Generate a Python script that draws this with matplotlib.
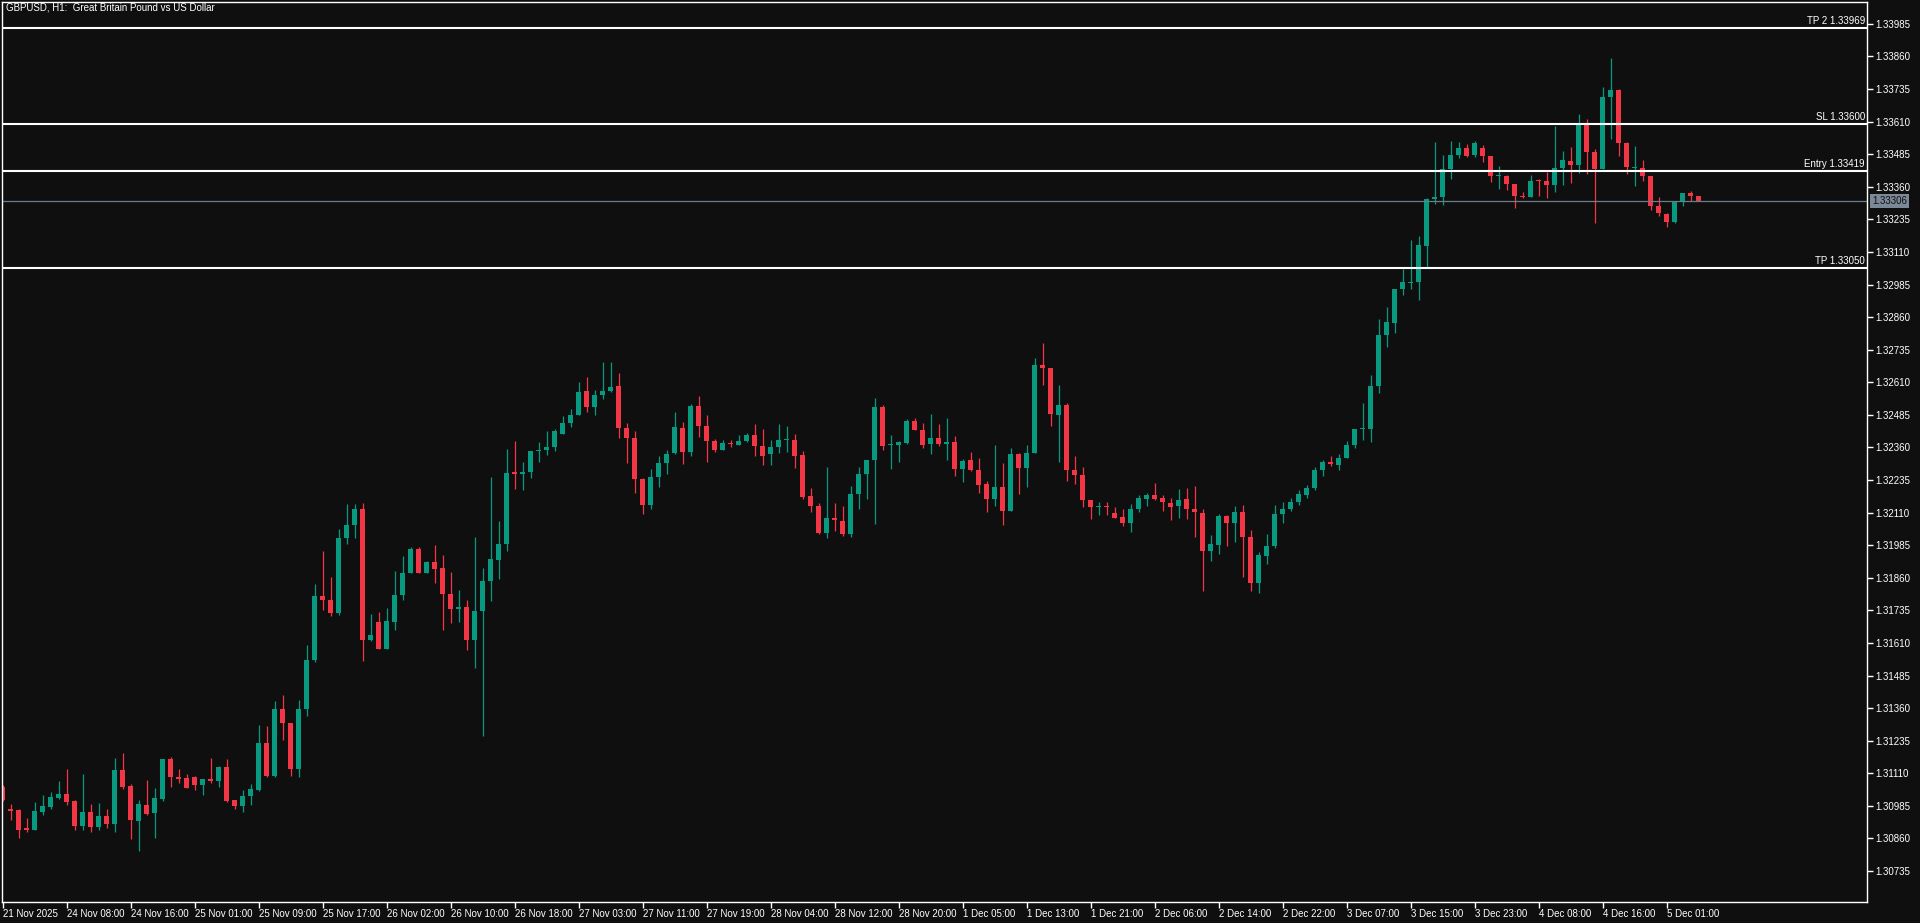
import numpy as np
import matplotlib.pyplot as plt
from matplotlib.transforms import blended_transform_factory

plt.rcParams['font.family'] = ['Liberation Sans', 'DejaVu Sans']

title = 'GBPUSD, H1:  Great Britain Pound vs US Dollar'

# H1 bars
opens = [
    1.31058, 1.30973, 1.30970, 1.30898, 1.30894, 1.30963, 1.30982, 1.31016, 1.31031, 1.31004,
    1.30906, 1.30962, 1.30902, 1.30947, 1.30917, 1.31123, 1.31062, 1.30925, 1.30989, 1.30959,
    1.31013, 1.31165, 1.31096, 1.31092, 1.31096, 1.31063, 1.31089, 1.31081, 1.31135, 1.31008,
    1.30985, 1.31021, 1.31046, 1.31227, 1.31101, 1.31357, 1.31303, 1.31128, 1.31355, 1.31543,
    1.31791, 1.31776, 1.31723, 1.32011, 1.32061, 1.32125, 1.31623, 1.31691, 1.31585, 1.31692,
    1.31792, 1.31877, 1.31971, 1.31880, 1.31921, 1.31898, 1.31799, 1.31742, 1.31749, 1.31623,
    1.31731, 1.31846, 1.31930, 1.31988, 1.32263, 1.32260, 1.32264, 1.32345, 1.32349, 1.32360,
    1.32410, 1.32452, 1.32483, 1.32578, 1.32514, 1.32560, 1.32575, 1.32597, 1.32436, 1.32397,
    1.32240, 1.32141, 1.32245, 1.32299, 1.32337, 1.32436, 1.32341, 1.32520, 1.32443, 1.32386,
    1.32349, 1.32378, 1.32368, 1.32386, 1.32409, 1.32367, 1.32333, 1.32360, 1.32387, 1.32390,
    1.32332, 1.32175, 1.32136, 1.32030, 1.32090, 1.32079, 1.32026, 1.32180, 1.32257, 1.32310,
    1.32516, 1.32368, 1.32370, 1.32378, 1.32462, 1.32428, 1.32375, 1.32397, 1.32372, 1.32382,
    1.32279, 1.32313, 1.32274, 1.32221, 1.32164, 1.32209, 1.32115, 1.32336, 1.32283, 1.32337,
    1.32677, 1.32666, 1.32483, 1.32524, 1.32274, 1.32255, 1.32159, 1.32130, 1.32136, 1.32109,
    1.32094, 1.32072, 1.32122, 1.32164, 1.32178, 1.32167, 1.32148, 1.32134, 1.32163, 1.32125,
    1.32109, 1.31961, 1.31984, 1.32098, 1.32072, 1.32113, 1.32017, 1.31838, 1.31942, 1.31980,
    1.32103, 1.32122, 1.32150, 1.32178, 1.32205, 1.32272, 1.32305, 1.32291, 1.32318, 1.32370,
    1.32429, 1.32429, 1.32597, 1.32790, 1.32836, 1.32967, 1.32992, 1.32996, 1.33134, 1.33312,
    1.33320, 1.33427, 1.33481, 1.33510, 1.33481, 1.33510, 1.33480, 1.33400, 1.33403, 1.33372,
    1.33323, 1.33320, 1.33387, 1.33384, 1.33366, 1.33431, 1.33460, 1.33442, 1.33602, 1.33495,
    1.33427, 1.33703, 1.33733, 1.33529, 1.33431, 1.33433, 1.33403, 1.33288, 1.33254, 1.33224,
    1.33300, 1.33338, 1.33326,
]
highs = [
    1.31065, 1.30993, 1.30973, 1.30939, 1.31000, 1.31027, 1.31039, 1.31081, 1.31127, 1.31008,
    1.31108, 1.30993, 1.30996, 1.30973, 1.31169, 1.31188, 1.31069, 1.31008, 1.31085, 1.31054,
    1.31165, 1.31173, 1.31127, 1.31108, 1.31100, 1.31089, 1.31169, 1.31138, 1.31165, 1.31008,
    1.31046, 1.31069, 1.31296, 1.31292, 1.31388, 1.31411, 1.31303, 1.31392, 1.31603, 1.31837,
    1.31964, 1.31864, 1.32048, 1.32144, 1.32144, 1.32148, 1.31722, 1.31729, 1.31745, 1.31887,
    1.31944, 1.31979, 1.31979, 1.31925, 1.31987, 1.31948, 1.31883, 1.31814, 1.31776, 1.32017,
    1.31898, 1.32248, 1.32079, 1.32355, 1.32386, 1.32305, 1.32347, 1.32382, 1.32424, 1.32432,
    1.32482, 1.32509, 1.32612, 1.32631, 1.32582, 1.32689, 1.32689, 1.32647, 1.32455, 1.32424,
    1.32244, 1.32278, 1.32328, 1.32351, 1.32497, 1.32459, 1.32528, 1.32558, 1.32486, 1.32393,
    1.32390, 1.32390, 1.32409, 1.32416, 1.32451, 1.32432, 1.32390, 1.32451, 1.32443, 1.32413,
    1.32347, 1.32205, 1.32148, 1.32286, 1.32148, 1.32136, 1.32213, 1.32286, 1.32313, 1.32551,
    1.32524, 1.32409, 1.32386, 1.32470, 1.32474, 1.32455, 1.32489, 1.32451, 1.32474, 1.32405,
    1.32317, 1.32343, 1.32320, 1.32232, 1.32370, 1.32301, 1.32359, 1.32340, 1.32370, 1.32704,
    1.32762, 1.32666, 1.32601, 1.32532, 1.32328, 1.32286, 1.32159, 1.32152, 1.32152, 1.32132,
    1.32125, 1.32144, 1.32178, 1.32186, 1.32225, 1.32178, 1.32167, 1.32201, 1.32205, 1.32213,
    1.32125, 1.32025, 1.32106, 1.32102, 1.32136, 1.32140, 1.32044, 1.31960, 1.32029, 1.32140,
    1.32152, 1.32166, 1.32195, 1.32215, 1.32285, 1.32313, 1.32328, 1.32336, 1.32386, 1.32432,
    1.32532, 1.32639, 1.32854, 1.32900, 1.32969, 1.33046, 1.33157, 1.33173, 1.33318, 1.33530,
    1.33483, 1.33537, 1.33533, 1.33526, 1.33537, 1.33522, 1.33480, 1.33441, 1.33407, 1.33372,
    1.33341, 1.33407, 1.33391, 1.33418, 1.33595, 1.33499, 1.33514, 1.33641, 1.33622, 1.33506,
    1.33744, 1.33856, 1.33737, 1.33533, 1.33518, 1.33464, 1.33403, 1.33322, 1.33258, 1.33303,
    1.33338, 1.33345, 1.33326,
]
lows = [
    1.31002, 1.30932, 1.30863, 1.30883, 1.30894, 1.30948, 1.30971, 1.31012, 1.30990, 1.30894,
    1.30894, 1.30886, 1.30894, 1.30898, 1.30886, 1.31048, 1.30856, 1.30813, 1.30948, 1.30863,
    1.31005, 1.31059, 1.31073, 1.31055, 1.31044, 1.31028, 1.31073, 1.31059, 1.30998, 1.30971,
    1.30963, 1.30990, 1.31042, 1.31097, 1.31094, 1.31239, 1.31101, 1.31097, 1.31328, 1.31535,
    1.31738, 1.31715, 1.31719, 1.31988, 1.32011, 1.31539, 1.31616, 1.31585, 1.31585, 1.31658,
    1.31773, 1.31877, 1.31877, 1.31877, 1.31838, 1.31658, 1.31685, 1.31689, 1.31581, 1.31512,
    1.31251, 1.31769, 1.31854, 1.31961, 1.32199, 1.32195, 1.32241, 1.32303, 1.32330, 1.32345,
    1.32410, 1.32437, 1.32483, 1.32495, 1.32483, 1.32544, 1.32571, 1.32395, 1.32299, 1.32184,
    1.32103, 1.32122, 1.32207, 1.32257, 1.32333, 1.32295, 1.32329, 1.32399, 1.32306, 1.32341,
    1.32349, 1.32360, 1.32368, 1.32379, 1.32329, 1.32291, 1.32291, 1.32337, 1.32341, 1.32280,
    1.32161, 1.32111, 1.32026, 1.32011, 1.32038, 1.32019, 1.32015, 1.32122, 1.32161, 1.32068,
    1.32352, 1.32276, 1.32306, 1.32374, 1.32425, 1.32356, 1.32333, 1.32364, 1.32310, 1.32249,
    1.32226, 1.32268, 1.32187, 1.32111, 1.32134, 1.32061, 1.32115, 1.32180, 1.32210, 1.32337,
    1.32598, 1.32441, 1.32303, 1.32230, 1.32218, 1.32130, 1.32084, 1.32099, 1.32099, 1.32088,
    1.32057, 1.32034, 1.32111, 1.32134, 1.32159, 1.32115, 1.32080, 1.32091, 1.32084, 1.32015,
    1.31811, 1.31923, 1.31953, 1.31980, 1.31999, 1.31861, 1.31811, 1.31800, 1.31911, 1.31973,
    1.32072, 1.32115, 1.32140, 1.32165, 1.32195, 1.32249, 1.32287, 1.32272, 1.32318, 1.32356,
    1.32387, 1.32379, 1.32567, 1.32744, 1.32798, 1.32944, 1.32967, 1.32924, 1.33047, 1.33293,
    1.33289, 1.33389, 1.33469, 1.33473, 1.33473, 1.33454, 1.33377, 1.33350, 1.33347, 1.33277,
    1.33316, 1.33320, 1.33323, 1.33316, 1.33339, 1.33366, 1.33373, 1.33412, 1.33408, 1.33220,
    1.33427, 1.33542, 1.33477, 1.33408, 1.33362, 1.33381, 1.33270, 1.33247, 1.33205, 1.33220,
    1.33285, 1.33304, 1.33306,
]
closes = [
    1.31009, 1.30967, 1.30894, 1.30894, 1.30966, 1.30985, 1.31019, 1.31031, 1.30998, 1.30906,
    1.30962, 1.30902, 1.30947, 1.30917, 1.31123, 1.31059, 1.30929, 1.30993, 1.30955, 1.31016,
    1.31165, 1.31094, 1.31089, 1.31055, 1.31063, 1.31089, 1.31081, 1.31135, 1.31005, 1.30985,
    1.31023, 1.31050, 1.31227, 1.31101, 1.31357, 1.31301, 1.31128, 1.31357, 1.31545, 1.31791,
    1.31773, 1.31723, 1.32013, 1.32063, 1.32125, 1.31623, 1.31641, 1.31585, 1.31695, 1.31795,
    1.31879, 1.31971, 1.31880, 1.31921, 1.31892, 1.31796, 1.31742, 1.31746, 1.31623, 1.31733,
    1.31848, 1.31933, 1.31990, 1.32263, 1.32260, 1.32267, 1.32347, 1.32351, 1.32363, 1.32424,
    1.32455, 1.32486, 1.32574, 1.32514, 1.32562, 1.32578, 1.32593, 1.32433, 1.32395, 1.32237,
    1.32141, 1.32248, 1.32301, 1.32336, 1.32440, 1.32341, 1.32520, 1.32441, 1.32383, 1.32352,
    1.32378, 1.32372, 1.32386, 1.32409, 1.32364, 1.32329, 1.32363, 1.32390, 1.32390, 1.32329,
    1.32168, 1.32134, 1.32030, 1.32090, 1.32080, 1.32026, 1.32182, 1.32259, 1.32313, 1.32516,
    1.32364, 1.32370, 1.32382, 1.32462, 1.32425, 1.32368, 1.32397, 1.32372, 1.32382, 1.32279,
    1.32309, 1.32272, 1.32214, 1.32164, 1.32209, 1.32115, 1.32336, 1.32283, 1.32340, 1.32677,
    1.32663, 1.32487, 1.32524, 1.32272, 1.32253, 1.32157, 1.32130, 1.32136, 1.32130, 1.32091,
    1.32072, 1.32125, 1.32167, 1.32178, 1.32163, 1.32149, 1.32130, 1.32159, 1.32122, 1.32111,
    1.31961, 1.31990, 1.32098, 1.32072, 1.32113, 1.32015, 1.31838, 1.31948, 1.31983, 1.32106,
    1.32125, 1.32152, 1.32180, 1.32205, 1.32274, 1.32305, 1.32295, 1.32321, 1.32370, 1.32432,
    1.32433, 1.32597, 1.32793, 1.32842, 1.32969, 1.32996, 1.32996, 1.33138, 1.33315, 1.33322,
    1.33430, 1.33483, 1.33510, 1.33477, 1.33529, 1.33477, 1.33400, 1.33403, 1.33370, 1.33323,
    1.33320, 1.33384, 1.33381, 1.33366, 1.33433, 1.33464, 1.33442, 1.33602, 1.33492, 1.33427,
    1.33706, 1.33733, 1.33527, 1.33435, 1.33435, 1.33400, 1.33285, 1.33258, 1.33224, 1.33303,
    1.33338, 1.33323, 1.33306,
]

time_labels = ['21 Nov 2025', '24 Nov 08:00', '24 Nov 16:00', '25 Nov 01:00', '25 Nov 09:00',
               '25 Nov 17:00', '26 Nov 02:00', '26 Nov 10:00', '26 Nov 18:00', '27 Nov 03:00',
               '27 Nov 11:00', '27 Nov 19:00', '28 Nov 04:00', '28 Nov 12:00', '28 Nov 20:00',
               '1 Dec 05:00', '1 Dec 13:00', '1 Dec 21:00', '2 Dec 06:00', '2 Dec 14:00',
               '2 Dec 22:00', '3 Dec 07:00', '3 Dec 15:00', '3 Dec 23:00', '4 Dec 08:00',
               '4 Dec 16:00', '5 Dec 01:00']
bars_per_label = 8

level_names = ['TP 2', 'SL', 'Entry', 'TP']
level_prices = [1.33969, 1.33600, 1.33419, 1.33050]
last_price = 1.33306

price_ticks = [1.30735 + 0.00125 * k for k in range(27)]

bg = '#0f0f0f'
up_col = '#089981'
dn_col = '#f23645'
W, H = 1920, 923

o = np.array(opens); h = np.array(highs); l = np.array(lows); c = np.array(closes)
x = np.arange(len(o))
cols = np.where(c >= o, up_col, dn_col)

fig = plt.figure(figsize=(W / 100, H / 100), dpi=100, facecolor=bg)
# plot frame in pixels: x 2..1867, y 2..902
ax = fig.add_axes([2 / W, 21 / H, 1865 / W, 900 / H], facecolor=bg)

ax.vlines(x, l, h, colors=cols, linewidth=0.9)
body_lo = np.minimum(o, c)
body_h = np.maximum(np.abs(c - o), 0.00004)
ax.bar(x, body_h, bottom=body_lo, width=0.62, color=cols, linewidth=0)

ax.set_xlim(-0.0625, 233.06)
ax.set_ylim(1.30616, 1.34069)

# trade levels
tr = blended_transform_factory(ax.transAxes, ax.transData)
for name, p in zip(level_names, level_prices):
    ax.axhline(p, color='white', lw=1.5)
    ax.annotate(f'{name} {p:.5f}', xy=(1, p), xycoords=tr, xytext=(-2, 2),
                textcoords='offset pixels', ha='right', va='bottom',
                color='white', fontsize=7)

# last price
ax.axhline(last_price, color='#6f7c8c', lw=0.9)
ax.annotate(f'{last_price:.5f}', xy=(1, last_price), xycoords=tr, xytext=(5, 0),
            textcoords='offset pixels', ha='left', va='center', color='#0f0f0f',
            fontsize=7, annotation_clip=False,
            bbox=dict(boxstyle='square,pad=0.2', fc='#7b8898', ec='none'))

# axes
for s in ax.spines.values():
    s.set_color('white')
    s.set_linewidth(1)
ax.yaxis.tick_right()
ax.set_yticks(price_ticks)
ax.set_yticklabels([f'{v:.5f}' for v in price_ticks])
ax.tick_params(axis='y', colors='white', labelsize=7, length=4, width=1, pad=2)

ax.set_xticks(np.arange(len(time_labels)) * bars_per_label)
ax.set_xticklabels(time_labels)
ax.tick_params(axis='x', colors='white', labelsize=7, length=4, width=1, pad=1)
plt.setp(ax.get_xticklabels(), ha='left')

fig.text(6 / W, 1 - 8 / H, title, ha='left', va='center', color='white', fontsize=7)

fig.savefig('out.png', dpi=100, facecolor=bg)
